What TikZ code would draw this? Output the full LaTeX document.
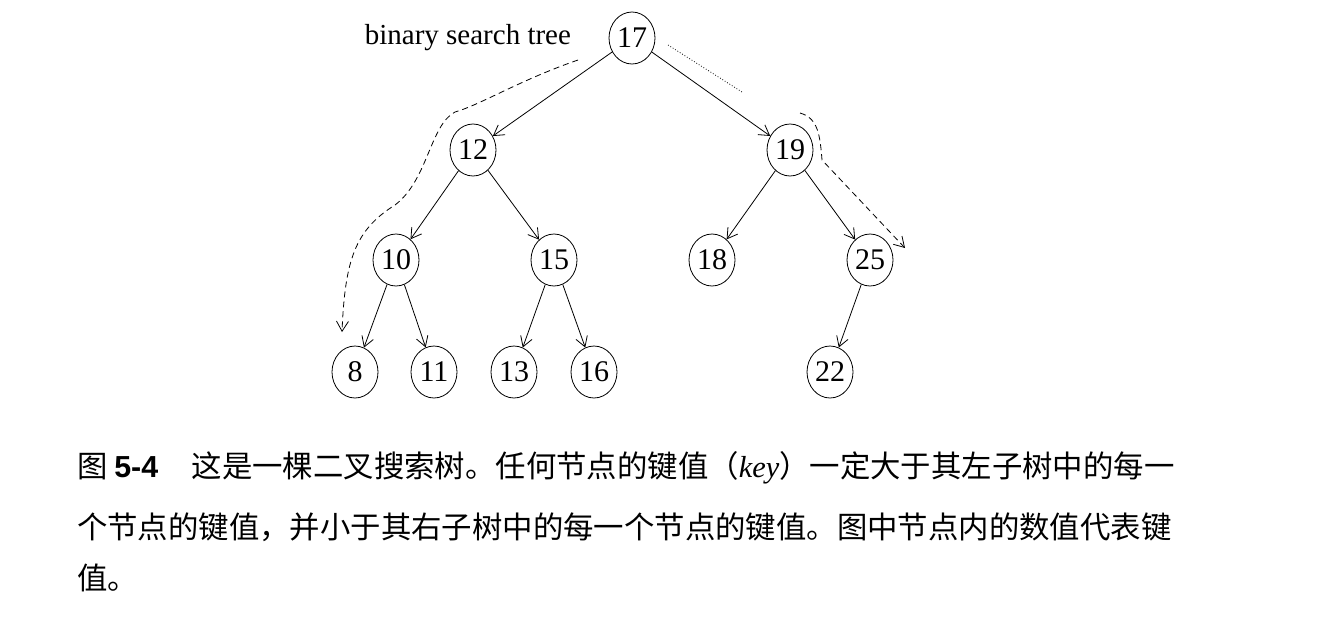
\documentclass[tikz,border=0pt]{standalone}
\usepackage{fontspec}
\setmainfont{Liberation Serif}
\newfontfamily\cjk{Noto Sans CJK SC}
\usetikzlibrary{arrows.meta,shapes.geometric}
\begin{document}
\begin{tikzpicture}[x=0.5pt,y=-0.5pt,
  nd/.style={draw,ellipse,minimum width=23pt,minimum height=26pt,inner sep=0pt,font=\fontsize{15}{15}\selectfont},
  ed/.style={-{Straight Barb[length=5pt,width=6pt]},thin},
  walk/.style={densely dashed,thin,-{Straight Barb[length=5pt,width=6pt]}},
  captxt/.style={anchor=west,font=\cjk\fontsize{15.2}{15.2}\selectfont}]
\useasboundingbox (0,0) rectangle (1320,628);
\node[nd] (n17) at (632,38) {17};
\node[nd] (n12) at (473,150) {12};
\node[nd] (n19) at (790,150) {19};
\node[nd] (n10) at (396,260) {10};
\node[nd] (n15) at (554,260) {15};
\node[nd] (n18) at (712,260) {18};
\node[nd] (n25) at (870,260) {25};
\node[nd] (n8) at (355,372) {8};
\node[nd] (n11) at (434,372) {11};
\node[nd] (n13) at (514,372) {13};
\node[nd] (n16) at (594,372) {16};
\node[nd] (n22) at (830,372) {22};
\node[anchor=east,font=\fontsize{14.5}{14.5}\selectfont] (lbl) at (578,38) {binary search tree};
\foreach \a/\b in {n17/n12,n17/n19,n12/n10,n12/n15,n19/n18,n19/n25,n10/n8,n10/n11,n15/n13,n15/n16,n25/n22}
  \draw[ed] (\a) -- (\b);
\coordinate (ls) at (578,60); \coordinate (le) at (342,332);
\coordinate (rs) at (668,45); \coordinate (re) at (905,248);
\draw[walk] (ls) .. controls (520,80) and (480,105) .. (455,112)
  .. controls (430,125) and (428,180) .. (395,205)
  .. controls (355,230) and (345,260) .. (le);
\draw[densely dotted,thin] (rs) -- (742,92);
\draw[walk] (800,113) .. controls (818,118) and (820,135) .. (822,160) -- (re);
\node[captxt] (c1) at (70,468) {图 \textbf{\fontspec{Liberation Sans}5-4}\hspace{1.1em}这是一棵二叉搜索树。任何节点的键值（\textit{\fontspec{Liberation Serif}key}）一定大于其左子树中的每一};
\node[captxt] (c2) at (70,527) {个节点的键值，并小于其右子树中的每一个节点的键值。图中节点内的数值代表键};
\node[captxt] (c3) at (70,578) {值。};
\end{tikzpicture}
\end{document}
